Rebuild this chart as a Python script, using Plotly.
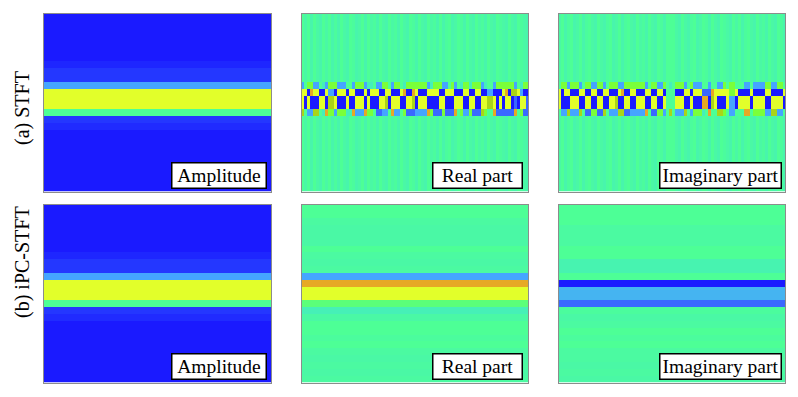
import plotly.graph_objects as go

W, H = 798, 397

# Colour levels: index in the list is the value in the cells
level_colors = ["#1a1aff", "#2437ff", "#3a68ff", "#45a5ff", "#45eebb", "#4dff96",
                "#7aff3a", "#e2ff2a", "#aad418", "#e6a825"]

row_labels = ["(a) STFT", "(b) iPC-STFT"]
box_labels = ["Amplitude", "Real part", "Imaginary part"]

# Single value per row (26 rows, top to bottom)
amp_rows = [0, 0, 0, 0, 0, 0, 0, 0.4, 1, 1, 3, 7, 7, 7, 5, 1, 0.6, 0, 0, 0, 0, 0, 0, 0, 0, 0]
ipc_real_rows = [5, 5, 4.7, 4.6, 4.6, 4.6, 5, 4.7, 4.6, 4.7, 3, 9, 7, 7, 5.3, 4.1,
                 4.6, 5, 5, 4.8, 5, 4.7, 4.6, 4.7, 4.6, 4.7]
ipc_imag_rows = [5, 5, 5, 4.7, 4.7, 4.7, 5, 5, 4.3, 4.3, 5, 0, 3.2, 3.2, 2, 4.8,
                 4.6, 4.7, 5, 4.8, 5, 4.7, 4.7, 4.6, 4.7, 4.6]

# STFT real part: 76 time frames for the rows that carry the band
real_row10 = [3,5,6,6,3,3,5,4,3,6,6,6,3,3,3,5,5,3,6,6,6,3,4,4,5,3,3,6,6,5,3,6,6,5,4,6,6,6,
              6,6,6,6,3,4,6,6,6,3,3,5,6,3,5,4,6,6,4,6,6,6,3,4,5,5,3,6,6,6,6,6,6,3,5,4,6,6]
real_row11 = [7,7,0,9,7,7,0,0,7,3,3,0,7,7,7,0,7,7,0,0,0,7,0,7,7,
              7,0,0,7,7,0,0,0,7,9,0,0,9,7,0,0,0,7,7,7,7,0,0,7,7,7,
              0,0,0,7,7,0,0,7,7,0,0,3,3,0,0,0,7,9,0,8,8,7,3,0,0]
real_row12 = [7,0,7,0,0,0,7,7,0,8,8,7,0,0,0,7,0,0,7,7,7,0,7,0,0,
              0,7,7,8,0,7,7,7,0,0,7,7,8,0,7,7,7,0,0,0,0,7,7,0,0,0,
              7,7,7,0,0,7,7,0,0,7,7,8,8,7,0,7,0,7,7,0,2,0,7,7,2]
real_row14 = [8,5,3,3,8,8,5,4,9,6,6,3,6,6,6,4,4,9,3,3,3,9,6,6,5,2,2,3,3,5,9,3,3,5,6,2,2,2,
              3,3,3,3,9,6,2,2,2,6,2,2,2,9,5,6,3,3,6,2,2,2,8,6,5,5,9,2,2,2,2,2,2,9,5,6,2,2]
real_background = [5,4.6,5,4.4,5,4.6,4.4,5,4.6,5,4.4,4.8,4.4,5,4.6,4.4,5,4.8,4.4,4.6,5,4.4,5,4.6,4.8,4.4,
                   5,4.6,4.4,5,4.6,4.8,4.4,5,4.6,4.4,5,4.8,4.4,5,4.6,4.4,5,4.6,4.8,4.4,5,4.4,4.8,5,4.4,
                   4.6,5,4.8,4.4,5,4.6,4.4,5,4.6,4.8,4.4,5,4.6,4.4,5,4.8,4.6,4.4,5,4.6,4.4,5,4.8,4.6,4.4]

# STFT imaginary part
imag_row10 = [5,6,6,3,6,6,6,3,5,6,6,3,3,6,6,3,5,6,6,6,3,3,6,6,6,6,6,6,6,3,5,6,6,3,3,6,5,4,
              5,6,6,6,3,5,6,3,3,3,5,5,3,5,5,3,3,6,5,6,6,5,5,5,3,3,5,3,3,3,3,6,6,3,3,6,6,5]
imag_row11 = [7,0,7,7,0,0,0,7,7,0,0,7,7,0,0,7,7,0,0,0,7,9,0,0,7,7,0,0,0,7,7,0,0,7,7,0,5,5,
              5,0,0,0,7,7,0,7,7,7,2,2,2,9,7,7,7,7,7,6,6,7,0,0,0,0,7,0,0,0,0,7,7,0,0,0,0,7]
imag_row12 = [7,0,0,0,7,7,7,0,0,7,7,0,0,7,7,0,0,7,7,8,0,0,7,7,0,0,7,7,7,0,0,7,7,0,0,7,5,5,
              5,7,7,7,0,0,7,0,0,0,9,9,0,8,7,0,0,0,7,3,3,0,7,7,7,7,0,7,7,7,7,0,0,7,7,7,7,0]
imag_row14 = [5,3,3,8,3,3,3,8,5,2,2,6,6,2,2,8,5,3,3,3,8,8,2,2,3,3,3,3,3,9,5,2,2,6,6,3,5,8,
              5,3,3,3,8,5,3,6,6,6,4,5,9,5,5,8,8,6,5,3,3,5,5,5,9,9,5,6,6,6,6,3,3,8,8,3,3,5]
imag_background = [4.6,5,4.4,4.8,5,4.4,4.6,5,4.4,4.8,5,4.6,4.4,5,4.6,4.4,4.8,5,4.4,4.6,5,4.4,4.8,5,4.6,4.4,
                   5,4.6,4.8,4.4,5,4.6,4.4,5,4.8,4.4,5,5,5,4.6,4.4,5,4.6,4.4,4.8,5,4.4,4.6,5,4.8,4.4,
                   5,4.6,4.4,5,4.8,4.6,4.4,5,4.6,5,4.4,4.8,5,4.6,4.4,5,4.6,4.8,4.4,5,4.6,4.4,5,4.8,4.4]


def band_panel(bg, r10, r11, r12, r14):
    rows = [bg] * 10 + [r10, r11, r12, r12, r14] + [bg] * 11
    return rows


panels = [
    [[v] * 2 for v in amp_rows],
    band_panel(real_background, real_row10, real_row11, real_row12, real_row14),
    band_panel(imag_background, imag_row10, imag_row11, imag_row12, imag_row14),
    [[v] * 2 for v in amp_rows],
    [[v] * 2 for v in ipc_real_rows],
    [[v] * 2 for v in ipc_imag_rows],
]

# Layout (pixels)
col_x = [(44, 271), (301.5, 528), (558.5, 785)]
row_y = [(13.5, 191.5), (204.5, 382.5)]
box_x = [(170.5, 266.5), (432, 523), (659, 782)]
box_offset_top = 148
box_h = 27

colorscale = [[i / 9, c] for i, c in enumerate(level_colors)]

fig = go.Figure()
annotations = []
for idx, z in enumerate(panels):
    r, c = divmod(idx, 3)
    sfx = "" if idx == 0 else str(idx + 1)
    fig.add_trace(go.Heatmap(z=z, colorscale=colorscale, zmin=0, zmax=9, showscale=False,
                             xaxis="x" + sfx, yaxis="y" + sfx, hoverinfo="skip"))
    x0, x1 = col_x[c]
    y0, y1 = row_y[r]
    axis = dict(showticklabels=False, ticks="", showgrid=False, zeroline=False,
                showline=True, mirror=True, linecolor="#8c8c8c", linewidth=1)
    fig.layout["xaxis" + sfx] = dict(axis, domain=[x0 / W, x1 / W], anchor="y" + sfx)
    fig.layout["yaxis" + sfx] = dict(axis, domain=[1 - y1 / H, 1 - y0 / H], anchor="x" + sfx,
                                     autorange="reversed")
    bx0, bx1 = box_x[c]
    by = y0 + box_offset_top
    annotations.append(dict(
        text=box_labels[c], xref="paper", yref="paper",
        x=(bx0 + bx1) / 2 / W, y=1 - (by + box_h / 2) / H,
        xanchor="center", yanchor="middle", showarrow=False,
        width=bx1 - bx0 - 3, height=box_h - 3, align="center", valign="middle",
        bgcolor="white", bordercolor="black", borderwidth=1.5, borderpad=0,
        font=dict(family="Liberation Serif", size=19.5, color="black")))

for label, yc in zip(row_labels, [108, 262]):
    annotations.append(dict(
        text=label, xref="paper", yref="paper", x=22 / W, y=1 - yc / H,
        xanchor="center", yanchor="middle", showarrow=False, textangle=-90,
        font=dict(family="Liberation Serif", size=20, color="black")))

fig.update_layout(width=W, height=H, margin=dict(l=0, r=0, t=0, b=0),
                  paper_bgcolor="white", plot_bgcolor="white", annotations=annotations)

fig.write_html("out.html", config={"displayModeBar": False},
               post_script="document.body.style.margin='0';document.body.style.overflow='hidden';")
